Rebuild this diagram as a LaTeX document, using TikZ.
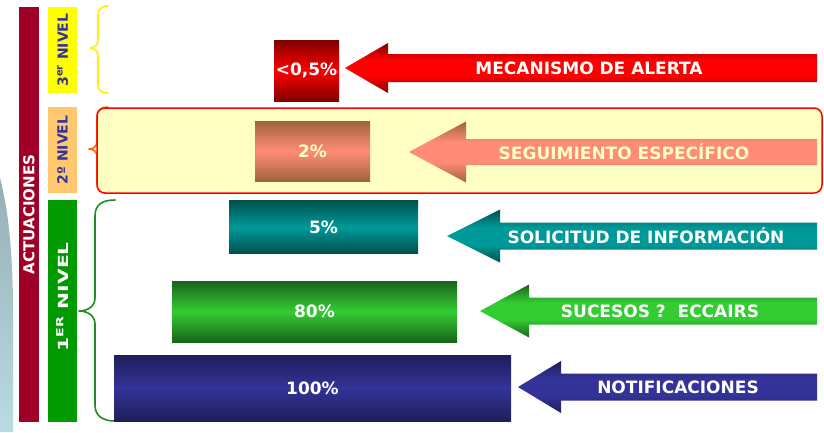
\documentclass[tikz,border=0pt]{standalone}
\usepackage{fontspec}
\setmainfont{DejaVu Sans}
\colorlet{adark}{black}
\colorlet{abright}{white}
\pgfdeclareverticalshading[adark,abright]{arrowsh}{100bp}{color(0bp)=(adark); color(25bp)=(adark); color(42bp)=(abright); color(58bp)=(abright); color(75bp)=(adark); color(100bp)=(adark)}
\definecolor{actred}{RGB}{160,0,40}
\definecolor{lvlyel}{RGB}{255,255,0}
\definecolor{lvlor}{RGB}{255,200,110}
\definecolor{lvlgr}{RGB}{0,153,0}
\definecolor{lvlblue}{RGB}{51,51,153}
\definecolor{braceyel}{RGB}{255,238,0}
\definecolor{braceor}{RGB}{255,102,0}
\definecolor{bracegr}{RGB}{34,139,34}
\definecolor{hilite}{RGB}{255,255,196}
\definecolor{ltyel}{RGB}{255,255,192}
\definecolor{bgtop}{RGB}{150,175,182}
\definecolor{bgbot}{RGB}{184,220,224}
\definecolor{rdk}{RGB}{128,0,0}
\definecolor{rbr}{RGB}{255,0,0}
\definecolor{sdk}{RGB}{160,100,60}
\definecolor{sbr}{RGB}{255,140,120}
\definecolor{tdk}{RGB}{0,80,80}
\definecolor{tbr}{RGB}{0,153,153}
\definecolor{gdk}{RGB}{26,100,26}
\definecolor{gbr}{RGB}{51,204,51}
\definecolor{bdk}{RGB}{30,30,90}
\definecolor{bbr}{RGB}{51,51,153}
\newcommand{\myarrow}[8]{\colorlet{adark}{#1}\colorlet{abright}{#2}\path[shading=arrowsh] (#3,#4) -- (#5,#4-#6) -- (#5,#4-#7) -- (#8,#4-#7) -- (#8,#4+#7) -- (#5,#4+#7) -- (#5,#4+#6) -- cycle;}
\begin{document}
\begin{tikzpicture}[x=1pt,y=-1pt,
  lbl/.style={font=\bfseries\fontsize{17}{20}\selectfont, text=white, inner sep=0pt},
  side/.style={font=\bfseries\fontsize{14}{16}\selectfont, rotate=90, inner sep=0pt},
  pbox/.style={inner sep=0pt, font=\bfseries\fontsize{17}{20}\selectfont, text=white},
  brace/.style={line width=1.6pt, line cap=round, line join=round}]
\useasboundingbox (0,0) rectangle (824,432);
% background shape
\path[top color=bgtop, bottom color=bgbot] (0,178) .. controls (7,205) and (12,240) .. (13,300) -- (13,432) -- (0,432) -- cycle;
% left bars
\node[side, fill=actred, text=white, font=\bfseries\fontsize{15}{17}\selectfont, minimum width=415pt, minimum height=20pt] (act) at (29,214.5) {ACTUACIONES};
\node[side, fill=lvlyel, text=lvlblue, minimum width=86pt, minimum height=29pt] (n3) at (62.5,50) {3\textsuperscript{er} NIVEL};
\node[side, fill=lvlor, text=lvlblue, minimum width=86pt, minimum height=29pt] (n2) at (62.5,150) {2º NIVEL};
\node[side, fill=lvlgr, minimum width=222pt, minimum height=29pt] (n1) at (62.5,311) {};
\node[side, text=white] (n1t) at (62.5,297) {\scalebox{1.45}[1]{1\textsuperscript{ER} NIVEL}};
% braces
\draw[brace, draw=braceor] (108,107) .. controls (101,107) and (97,110) .. (97,118) -- (97,141) .. controls (97,146) and (94,149) .. (89,149) .. controls (94,149) and (97,152) .. (97,157) -- (97,183) .. controls (97,190) and (101,193) .. (108,193);
\node[draw=red, line width=1.5pt, fill=hilite, rounded corners=8pt, minimum width=725pt, minimum height=85pt, inner sep=0pt] (hl) at (459.5,150.5) {};
\draw[brace, draw=braceyel] (108,6) .. controls (101,6) and (98,9) .. (98,16) -- (98,40) .. controls (98,45) and (95,48) .. (90,48) .. controls (95,48) and (98,51) .. (98,56) -- (98,84) .. controls (98,90) and (101,93) .. (108,93);
\draw[brace, draw=bracegr] (115,200) .. controls (103,200) and (95,204) .. (95,216) -- (95,298) .. controls (95,306) and (88,311) .. (79,311) .. controls (88,311) and (95,316) .. (95,324) -- (95,405) .. controls (95,416) and (103,421) .. (115,421);
% percentage boxes
\node[pbox, minimum width=65pt, minimum height=61pt, top color=rdk, bottom color=rdk, middle color=rbr] (b1) at (306.5,70.5) {<0,5\%};
\node[pbox, text=ltyel, minimum width=115pt, minimum height=60pt, top color=sdk, bottom color=sdk, middle color=sbr] (b2) at (312.5,151) {2\%};
\node[pbox, minimum width=189pt, minimum height=53pt, top color=tdk, bottom color=tdk, middle color=tbr] (b3) at (323.5,227) {5\%};
\node[pbox, minimum width=285pt, minimum height=61pt, top color=gdk, bottom color=gdk, middle color=gbr] (b4) at (314.5,311.5) {80\%};
\node[pbox, minimum width=397pt, minimum height=66pt, top color=bdk, bottom color=bdk, middle color=bbr] (b5) at (312.5,388) {100\%};
% arrows
\myarrow{rdk}{rbr}{345}{68}{388}{25}{14}{817}
\myarrow{sdk}{sbr}{409}{152}{466}{30.5}{13}{817}
\myarrow{tdk}{tbr}{447}{236}{500}{26.5}{13.5}{817}
\myarrow{gdk}{gbr}{480}{311}{529}{26.5}{13.5}{817}
\myarrow{bdk}{bbr}{518}{387}{561}{26}{13.5}{817}
\node[lbl] (a1) at (589,68) {MECANISMO DE ALERTA};
\node[lbl, text=ltyel] (a2) at (624,152) {SEGUIMIENTO ESPECÍFICO};
\node[lbl] (a3) at (646,236) {SOLICITUD DE INFORMACIÓN};
\node[lbl] (a4) at (660,311) {SUCESOS ?\ \ ECCAIRS};
\node[lbl] (a5) at (678,387) {NOTIFICACIONES};
\end{tikzpicture}
\end{document}
